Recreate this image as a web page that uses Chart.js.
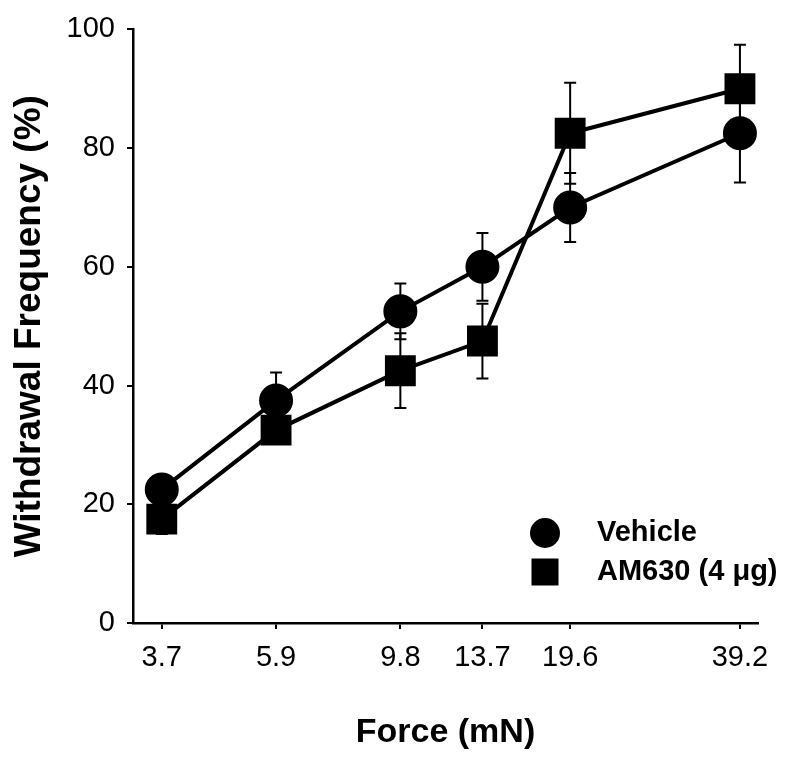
<!DOCTYPE html>
<html>
<head>
<meta charset="utf-8">
<script src="https://cdn.jsdelivr.net/npm/chart.js@4.4.1/dist/chart.umd.min.js"></script>
<style>
  html, body { margin: 0; padding: 0; background: #fff; }
  #wrap { width: 800px; height: 770px; }
</style>
</head>
<body>
<div id="wrap"><canvas id="chart"></canvas></div>
<script>
// force applied (mN), log-spaced x axis
const forces = [3.7, 5.9, 9.8, 13.7, 19.6, 39.2];
const forceLabels = ['3.7', '5.9', '9.8', '13.7', '19.6', '39.2'];

const vehicle = [22.5, 37.5, 52.5, 60, 70, 82.5];
const vehicleErr = [2, 4.7, 4.7, 5.7, 5.8, 8.3];

const am630 = [17.5, 32.5, 42.5, 47.5, 82.5, 90];
const am630Err = [2.5, 2, 6.3, 6.3, 8.5, 7.4];

const yTicks = [0, 20, 40, 60, 80, 100];

const FONT = '"Liberation Sans", Arial, sans-serif';

const toPoints = (vals) => forces.map((f, i) => ({ x: f, y: vals[i] }));

const errorBars = {
    id: 'errorBars',
    beforeDatasetsDraw(chart) {
        const { ctx, scales: { x, y } } = chart;
        ctx.save();
        ctx.strokeStyle = '#000';
        ctx.lineWidth = 2;
        chart.data.datasets.forEach((ds) => {
            ds.errors.forEach((e, j) => {
                const px = x.getPixelForValue(ds.data[j].x);
                const top = y.getPixelForValue(ds.data[j].y + e);
                const bot = y.getPixelForValue(ds.data[j].y - e);
                ctx.beginPath();
                ctx.moveTo(px, top); ctx.lineTo(px, bot);
                ctx.moveTo(px - 6, top); ctx.lineTo(px + 6, top);
                ctx.moveTo(px - 6, bot); ctx.lineTo(px + 6, bot);
                ctx.stroke();
            });
        });
        ctx.restore();
    }
};

const insideLegend = {
    id: 'insideLegend',
    afterDraw(chart) {
        const { ctx } = chart;
        const mx = 545, tx = 597;
        ctx.save();
        ctx.fillStyle = '#000';
        ctx.beginPath();
        ctx.arc(mx, 533, 15, 0, Math.PI * 2);
        ctx.fill();
        ctx.fillRect(mx - 13.5, 572 - 13.5, 27, 27);
        ctx.font = 'bold 29px ' + FONT;
        ctx.textBaseline = 'middle';
        chart.data.datasets.forEach((ds, i) => {
            ctx.fillText(ds.label, tx, i === 0 ? 533 : 572);
        });
        ctx.restore();
    }
};

const data = {
    datasets: [{
            label: 'Vehicle',
            data: toPoints(vehicle),
            errors: vehicleErr,
            borderColor: '#000',
            backgroundColor: '#000',
            borderWidth: 4,
            pointStyle: 'circle',
            pointRadius: 15,
            pointHoverRadius: 15
        }, {
            label: 'AM630 (4 \u03bcg)',
            data: toPoints(am630),
            errors: am630Err,
            borderColor: '#000',
            backgroundColor: '#000',
            borderWidth: 4,
            pointStyle: 'rect',
            pointRadius: 19,
            pointHoverRadius: 19
        }]
};

const config = {
    type: 'line',
    data: data,
    plugins: [errorBars, insideLegend],
    options: {
        responsive: false,
        animation: false,
        layout: { padding: { left: 0, right: 42, top: 29, bottom: 0 } },
        plugins: {
            legend: { display: false },
            tooltip: { enabled: false }
        },
        scales: {
            x: {
                type: 'logarithmic',
                min: 3.29,
                max: 42.2,
                afterBuildTicks: (scale) => {
                    scale.ticks = forces.map(v => ({ value: v }));
                },
                afterFit: (scale) => { scale.height = 147; },
                ticks: {
                    autoSkip: false,
                    maxRotation: 0,
                    padding: 12,
                    color: '#000',
                    font: { family: FONT, size: 29 },
                    callback: (value) => forceLabels[forces.indexOf(value)]
                },
                grid: { drawOnChartArea: false, tickLength: 6, color: '#000', lineWidth: 2 },
                border: { color: '#000', width: 2.5 },
                title: {
                    display: true,
                    text: 'Force (mN)',
                    color: '#000',
                    font: { family: FONT, size: 34, weight: 'bold' },
                    padding: 17
                }
            },
            y: {
                min: 0,
                max: 100,
                afterBuildTicks: (scale) => {
                    scale.ticks = yTicks.map(v => ({ value: v }));
                },
                afterFit: (scale) => { scale.width = 133; },
                ticks: {
                    padding: 12,
                    color: '#000',
                    font: { family: FONT, size: 29 }
                },
                grid: { drawOnChartArea: false, tickLength: 6, color: '#000', lineWidth: 2 },
                border: { color: '#000', width: 2.5 },
                title: {
                    display: true,
                    text: 'Withdrawal Frequency (%)',
                    color: '#000',
                    font: { family: FONT, size: 37, weight: 'bold' },
                    padding: 8
                }
            }
        }
    }
};

const canvas = document.getElementById('chart');
canvas.width = 800;
canvas.height = 770;
new Chart(canvas.getContext('2d'), config);
</script>
</body>
</html>
